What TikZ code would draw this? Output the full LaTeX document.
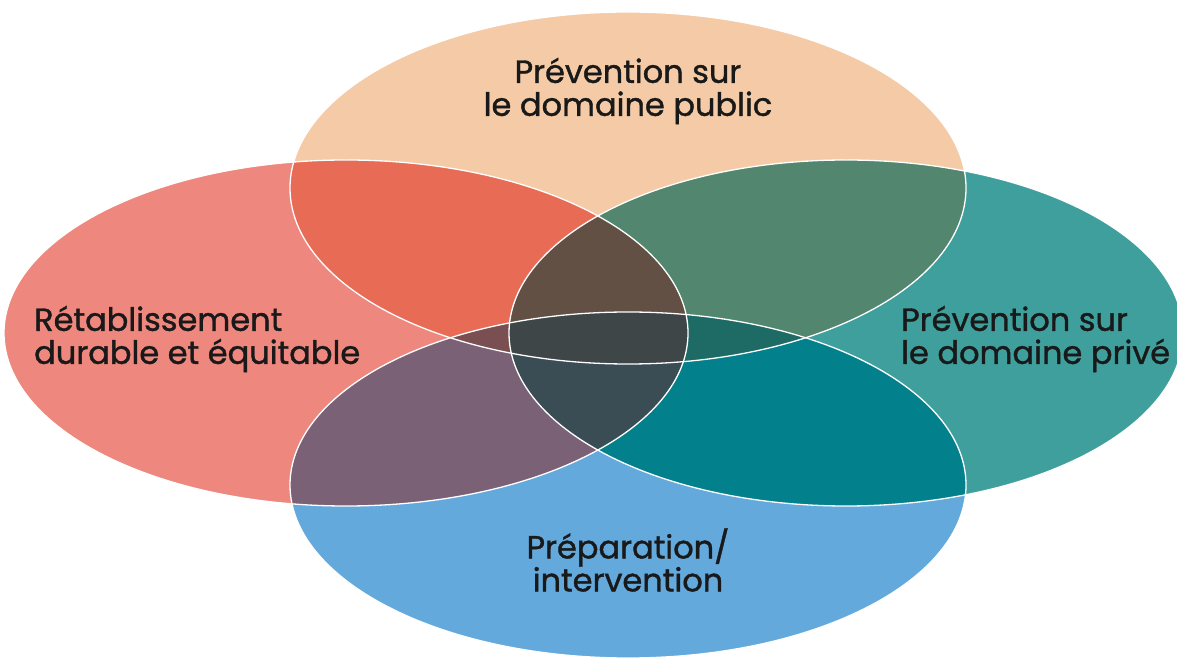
\documentclass[tikz,border=0pt]{standalone}
\usepackage{fontspec}
\setmainfont[FakeBold=1.2]{Poppins}
\definecolor{peach}{HTML}{F4CBA6}
\definecolor{salmon}{HTML}{EE877D}
\definecolor{seateal}{HTML}{3F9F9D}
\definecolor{skyblue}{HTML}{63A9DC}
\definecolor{tlcol}{HTML}{E76B55}
\definecolor{trcol}{HTML}{52866F}
\definecolor{blcol}{HTML}{7B6176}
\definecolor{brcol}{HTML}{02808B}
\definecolor{tlrcol}{HTML}{625045}
\definecolor{blrcol}{HTML}{3A4D55}
\definecolor{tblcol}{HTML}{7A4F52}
\definecolor{tbrcol}{HTML}{1E6B65}
\definecolor{allcol}{HTML}{3E4647}
\newcommand{\ellT}{(628,471) ellipse (338 and 176)}
\newcommand{\ellL}{(346,326) ellipse (342 and 173)}
\newcommand{\ellR}{(846,326) ellipse (337 and 173)}
\newcommand{\ellB}{(628,174) ellipse (338 and 173)}
\begin{document}
\begin{tikzpicture}[x=1pt,y=1pt,
    lbl/.style={font=\fontsize{32}{33}\selectfont,text=black!90,inner sep=0pt}]
    \useasboundingbox (0,0) rectangle (1177,659);

    \fill[peach] \ellT;
    \fill[salmon] \ellL;
    \fill[seateal] \ellR;
    \fill[skyblue] \ellB;

    % two at a time
    \begin{scope} \clip \ellT; \fill[tlcol] \ellL; \fill[trcol] \ellR; \end{scope}
    \begin{scope} \clip \ellB; \fill[blcol] \ellL; \fill[brcol] \ellR; \end{scope}
    % three at a time
    \begin{scope} \clip \ellL; \clip \ellR; \fill[tlrcol] \ellT; \fill[blrcol] \ellB; \end{scope}
    \begin{scope} \clip \ellT; \clip \ellB; \fill[tblcol] \ellL; \fill[tbrcol] \ellR; \end{scope}
    % all four
    \begin{scope} \clip \ellT; \clip \ellB; \clip \ellL; \fill[allcol] \ellR; \end{scope}

    \foreach \e in {\ellT,\ellL,\ellR,\ellB}
      \draw[white,line width=1.3pt] \e;

    \node[lbl,align=center] (pubtxt) at (628,568) {Prévention sur\\le domaine public};
    \node[lbl,align=left,anchor=west] (rettxt) at (34,320) {Rétablissement\\durable et équitable};
    \node[lbl,align=left,anchor=west] (privtxt) at (901,320) {Prévention sur\\le domaine privé};
    \node[lbl,align=center] (preptxt) at (628,99) {Préparation/\\intervention};
  \end{tikzpicture}
\end{document}
